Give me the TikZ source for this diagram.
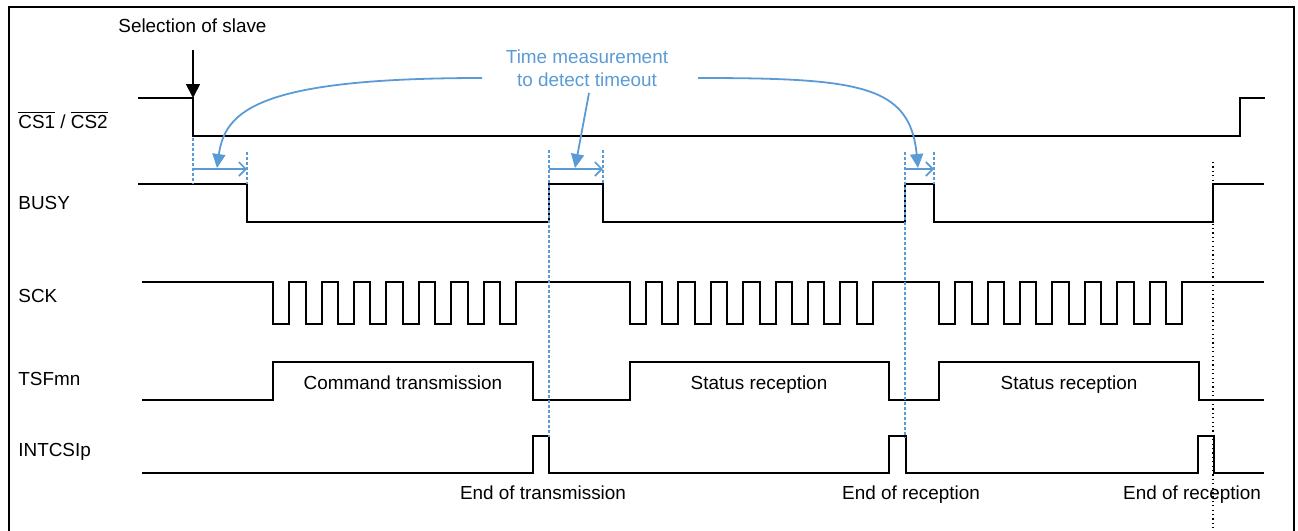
\documentclass[tikz,border=0pt]{standalone}
\usepackage{fontspec}
\setmainfont{Liberation Sans}
\usetikzlibrary{arrows.meta}
\definecolor{tblue}{RGB}{91,155,213}
\begin{document}
\begin{tikzpicture}[x=0.5pt,y=-0.5pt,
  sig/.style={line width=1pt, line join=miter},
  frameline/.style={line width=1pt},
  lbl/.style={font=\fontsize{9.45}{11.5}\selectfont, inner sep=0pt},
  bdash/.style={tblue, line width=0.7pt, dash pattern=on 1.5pt off 1pt},
  bmeas/.style={tblue, line width=0.8pt, -{Straight Barb[length=3.5pt,width=7pt]}},
  bcurve/.style={tblue, line width=0.9pt, -{Triangle[length=7pt,width=6.5pt]}},
  kdot/.style={black, line width=0.8pt, dash pattern=on 0.6pt off 1.6pt},
  selarrow/.style={black, line width=0.9pt, -{Triangle[length=7pt,width=7pt]}}]
\useasboundingbox (0,0) rectangle (1298,531);
% frame
\draw[frameline] (9,531) -- (9,7) -- (1294,7) -- (1294,531);

% signal labels
\node[lbl, anchor=west] (lcs) at (18,120) {$\overline{\mbox{CS1}}$ / $\overline{\mbox{CS2}}$};
\node[lbl, anchor=west] (lbusy) at (18,203) {BUSY};
\node[lbl, anchor=west] (lsck) at (18,296) {SCK};
\node[lbl, anchor=west] (ltsf) at (18,379) {TSFmn};
\node[lbl, anchor=west] (lint) at (18,452) {INTCSIp};

% CS
\draw[sig] (138,98) -- (193,98) -- (193,136) -- (1240,136) -- (1240,98) -- (1265,98);
% BUSY
\draw[sig] (138,184) -- (247,184) -- (247,222) -- (549,222) -- (549,184) -- (603,184) -- (603,222)
  -- (905,222) -- (905,184) -- (934,184) -- (934,222) -- (1213,222) -- (1213,184) -- (1264,184);
% SCK
\draw[sig] (142,282)
  foreach \s in {273.3,630,939.3}{
    foreach \i in {0,...,7}{ -- ({round(\s+32.4*\i)},282) -- ++(0,42) -- ++(16,0) -- ++(0,-42) }
  } -- (1264,282);
% TSFmn
\draw[sig] (142,400) -- (273,400) -- (273,362) -- (533,362) -- (533,400) -- (630,400) -- (630,362)
  -- (889,362) -- (889,400) -- (939,400) -- (939,362) -- (1199,362) -- (1199,400) -- (1264,400);
% INTCSIp
\draw[sig] (142,473) -- (533,473) -- (533,436) -- (549,436) -- (549,473) -- (889,473) -- (889,436)
  -- (906,436) -- (906,473) -- (1198,473) -- (1198,436) -- (1214,436) -- (1214,473) -- (1264,473);

% phase labels
\node[lbl, anchor=base] (cmd) at (403,389) {Command transmission};
\node[lbl, anchor=base] (st1) at (759,389) {Status reception};
\node[lbl, anchor=base] (st2) at (1069,389) {Status reception};
\node[lbl, anchor=base] (eot) at (543,499) {End of transmission};
\node[lbl, anchor=base] (eor1) at (911,499) {End of reception};
\node[lbl, anchor=base] (eor2) at (1192,499) {End of reception};

% selection of slave
\node[lbl, anchor=west] (sel) at (118,26) {Selection of slave};
\coordinate (selS) at (193,50);
\coordinate (selE) at (193,98);
\draw[selarrow] (selS) -- (selE);

% measurement markers
\coordinate (a1) at (193,138); \coordinate (a1b) at (193,184);
\coordinate (b1) at (247,152); \coordinate (b1b) at (247,184);
\coordinate (a2) at (549,150); \coordinate (a2b) at (549,437);
\coordinate (b2) at (603,150); \coordinate (b2b) at (603,184);
\coordinate (a3) at (905,152); \coordinate (a3b) at (905,438);
\coordinate (b3) at (934,152); \coordinate (b3b) at (934,184);
\draw[bdash] (a1) -- (a1b); \draw[bdash] (b1) -- (b1b);
\draw[bdash] (a2) -- (a2b); \draw[bdash] (b2) -- (b2b);
\draw[bdash] (a3) -- (a3b); \draw[bdash] (b3) -- (b3b);
\coordinate (m1s) at (193,169); \coordinate (m1e) at (247,169);
\coordinate (m2s) at (549,169); \coordinate (m2e) at (603,169);
\coordinate (m3s) at (905,169); \coordinate (m3e) at (934,169);
\draw[bmeas] (m1s) -- (m1e);
\draw[bmeas] (m2s) -- (m2e);
\draw[bmeas] (m3s) -- (m3e);

% black dotted line
\coordinate (dt) at (1213,162); \coordinate (db) at (1213,531);
\draw[kdot] (dt) -- (db);

% time measurement label and arrows
\node[lbl, text=tblue, align=center] (tm) at (587,68) {Time measurement\\to detect timeout};
\coordinate (cl) at (482,78); \coordinate (tl) at (217,168);
\coordinate (cm) at (589,93); \coordinate (tmid) at (575,168);
\coordinate (cr) at (698,78); \coordinate (tr) at (918,168);
\draw[bcurve] (cl) .. controls (260,78) and (225,110) .. (tl);
\draw[bcurve] (cm) -- (tmid);
\draw[bcurve] (cr) .. controls (860,78) and (910,85) .. (tr);
\end{tikzpicture}
\end{document}
